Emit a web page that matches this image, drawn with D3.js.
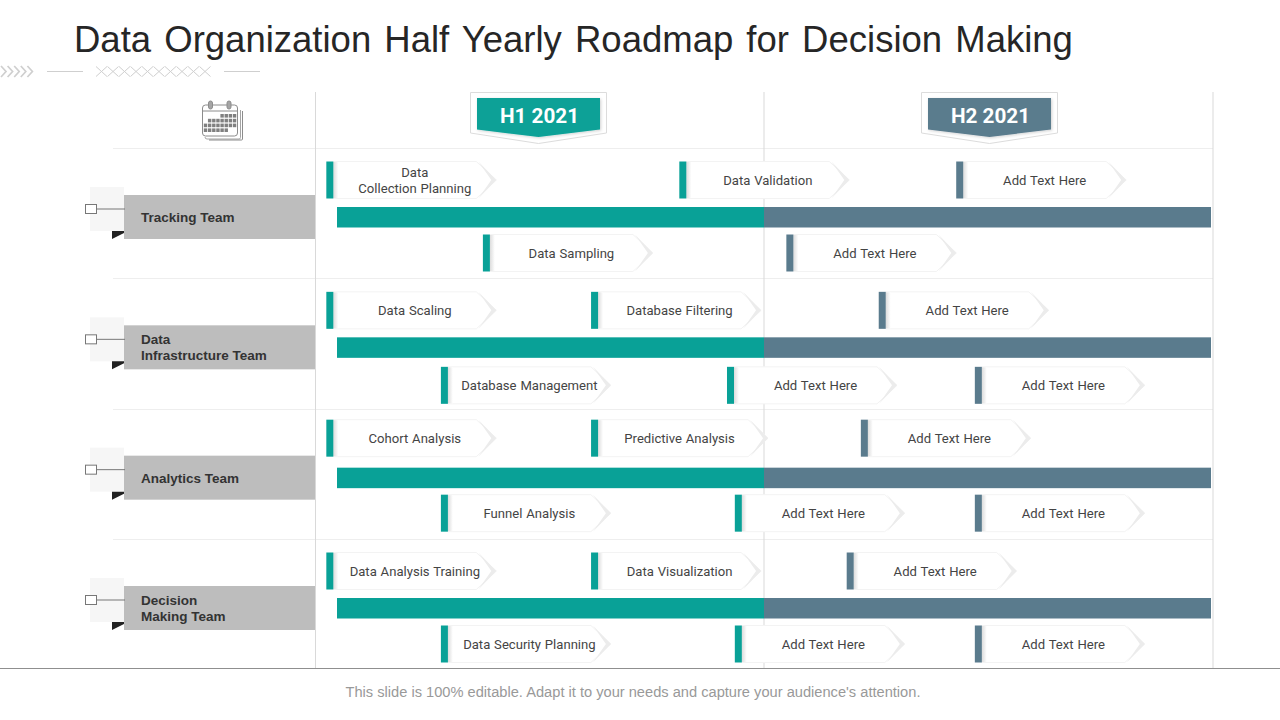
<!DOCTYPE html>
<html><head><meta charset="utf-8">
<script src="https://cdn.jsdelivr.net/npm/d3@7"></script>
<style>html,body{margin:0;padding:0;background:#fff}svg{display:block}</style>
</head><body><div id="c"></div>
<script>
// ---- data
const titleText = "Data Organization Half Yearly Roadmap for Decision Making";
const footerText = "This slide is 100% editable. Adapt it to your needs and capture your audience's attention.";
const teams = ["Tracking Team", "Data|Infrastructure Team", "Analytics Team", "Decision|Making Team"];
const halves = ["H1 2021", "H2 2021"];
const halfStartMonths = [0, 6];
const halfEndMonths = [6, 12];
// month positions of milestones (months from start of 2021)
const upperMonths = [[-0.15, 4.81, 8.58], [-0.15, 3.57, 7.54], [-0.15, 3.57, 7.30], [-0.15, 3.57, 7.11]];
const upperLabels = [
  ["Data|Collection Planning", "Data Validation", "Add Text Here"],
  ["Data Scaling", "Database Filtering", "Add Text Here"],
  ["Cohort Analysis", "Predictive Analysis", "Add Text Here"],
  ["Data Analysis Training", "Data Visualization", "Add Text Here"]];
const lowerMonths = [[2.05, 6.30], [1.46, 5.48, 8.83], [1.46, 5.59, 8.83], [1.46, 5.59, 8.83]];
const lowerLabels = [
  ["Data Sampling", "Add Text Here"],
  ["Database Management", "Add Text Here", "Add Text Here"],
  ["Funnel Analysis", "Add Text Here", "Add Text Here"],
  ["Data Security Planning", "Add Text Here", "Add Text Here"]];

// ---- style / layout
const TEAL = "#09a197", SLATE = "#5a7b8d";
const halfColors = [TEAL, SLATE];
const upperDy = [-37, -37, -39.5, -37], lowerDy = [36, 38, 35.5, 36];
const widerFlag = "Predictive Analysis";
const W = 1280, H = 720;
const x = d3.scaleLinear().domain([0, 6, 12]).range([337, 764, 1211]);
const y = d3.scalePoint().domain(d3.range(teams.length)).range([217, 608]);
const sepY = [148, 278, 409, 539];
const FONT = "Roboto, sans-serif", ARIAL = "'Liberation Sans', Arial, sans-serif";

const svg = d3.select("#c").append("svg").attr("width", W).attr("height", H);
const defs = svg.append("defs");
const f = defs.append("filter").attr("id", "sh").attr("x", "-10%").attr("y", "-20%").attr("width", "125%").attr("height", "140%");
f.append("feDropShadow").attr("dx", 1).attr("dy", 1).attr("stdDeviation", 1.6).attr("flood-color", "#000").attr("flood-opacity", 0.18);
const lg = defs.append("linearGradient").attr("id", "flagShade");
lg.append("stop").attr("offset", "0%").attr("stop-color", "#dcdcdc");
lg.append("stop").attr("offset", "100%").attr("stop-color", "#ffffff");

// title
svg.append("text").attr("x", 74).attr("y", 52).attr("font-family", ARIAL).attr("font-size", 36.5)
  .attr("fill", "#262626").attr("word-spacing", 3).text(titleText);

// decoration beneath the title
const deco = svg.append("g").attr("fill", "none").attr("stroke", "#cfcfcf").attr("stroke-width", 1.7);
d3.range(5).forEach(i => deco.append("path").attr("d", `M${1 + i * 6.6},66 l5,5.5 l-5,5.5`));
deco.append("path").attr("d", "M47,71.5H83M224,71.5H260").attr("stroke-width", 1);
d3.range(10).forEach(i => deco.append("path").attr("d", `M${96 + i * 11.5},66.5 l11,10 m0,-10 l-11,10`).attr("stroke-width", 1));

// grid
const grid = svg.append("g");
sepY.forEach(v => grid.append("line").attr("x1", 113).attr("x2", 1213).attr("y1", v + .5).attr("y2", v + .5).attr("stroke", "#eeeeee"));
[315.5, 764, 1213].forEach(v => grid.append("line").attr("x1", v).attr("x2", v).attr("y1", 92).attr("y2", 669).attr("stroke", "#d9d9d9"));
svg.append("line").attr("x1", 0).attr("x2", W).attr("y1", 668.5).attr("y2", 668.5).attr("stroke", "#8f8f8f");

// calendar icon
const cal = svg.append("g").attr("fill", "none").attr("stroke", "#8c8c8c").attr("stroke-width", 1);
cal.append("path").attr("d", "M240.5,110V137.5a1.5,1.5 0 0 1 -1.5,1.5H207a2,2 0 0 1 -2,-2").attr("stroke", "#a5a5a5");
cal.append("path").attr("d", "M242.5,111V139a1,1 0 0 1 -1,1H209");
cal.append("rect").attr("x", 202.5).attr("y", 105).attr("width", 35).attr("height", 31).attr("rx", 3).attr("fill", "#fff");
cal.append("line").attr("x1", 203).attr("x2", 237).attr("y1", 111).attr("y2", 111);
[210.5, 229].forEach(cx => cal.append("rect").attr("x", cx - 2).attr("y", 101).attr("width", 4).attr("height", 8).attr("rx", 2).attr("fill", "#a5a5a5"));
const calRows = [[4, 8], [1, 8], [0, 8], [0, 6]];
calRows.forEach((r, j) => d3.range(r[0], r[1]).forEach(i => {
  svg.append("rect").attr("x", 203.8 + i * 4.15).attr("y", 114 + j * 4.8).attr("width", 3.4).attr("height", 3.6).attr("fill", "#808080");
}));

// half badges
const badgeCentres = [538.5, 989.5];
halves.forEach((h, i) => {
  const g = svg.append("g").attr("transform", `translate(${badgeCentres[i]},0)`);
  g.append("path").attr("d", "M-68,92.5H68V133L0,143.5L-68,133Z").attr("fill", "#fff").attr("stroke", "#dcdcdc");
  g.append("path").attr("d", "M-61.5,98H61.5V129.5L0,137L-61.5,129.5Z").attr("fill", halfColors[i]).attr("filter", "url(#sh)");
  g.append("text").attr("x", 1).attr("y", 123).attr("text-anchor", "middle").attr("font-family", FONT).attr("font-weight", 700)
    .attr("font-size", 20.7).attr("fill", "#fff").text(h);
});

// team rows
teams.forEach((t, r) => {
  const cy = y(r);
  const g = svg.append("g");
  g.append("rect").attr("x", 90).attr("y", cy - 30).attr("width", 34).attr("height", 44).attr("fill", "#f6f6f6");
  g.append("path").attr("d", `M112,${cy + 22}V${cy + 14}H124V${cy + 16}Z`).attr("fill", "#222");
  g.append("rect").attr("x", 124).attr("y", cy - 22).attr("width", 191).attr("height", 44).attr("fill", "#bdbdbd");
  g.append("line").attr("x1", 96).attr("x2", 125).attr("y1", cy - 8).attr("y2", cy - 8).attr("stroke", "#777");
  g.append("rect").attr("x", 85.5).attr("y", cy - 12.5).attr("width", 11).attr("height", 9).attr("fill", "#fff").attr("stroke", "#777");
  const lines = t.split("|");
  lines.forEach((l, k) => g.append("text").attr("x", 141)
    .attr("y", cy + 5 + (k - (lines.length - 1) / 2) * 16)
    .attr("font-family", ARIAL).attr("font-weight", 700).attr("font-size", 13.5).attr("fill", "#333").text(l));

  // timeline bar
  halves.forEach((h, i) => svg.append("rect")
    .attr("x", x(halfStartMonths[i])).attr("width", x(halfEndMonths[i]) - x(halfStartMonths[i]))
    .attr("y", cy - 10).attr("height", 20.5).attr("fill", halfColors[i]));

  // milestones
  const drawFlags = (months, labels, fy) => months.forEach((m, k) => {
    const fx = x(m);
    const c = m < 6 ? TEAL : SLATE;
    const s = labels[k] === widerFlag ? 7 : 0;
    const fg = svg.append("g").attr("transform", `translate(${fx},${fy})`);
    fg.append("path").attr("d", `M7,-18.5H${150 + s}L${170 + s},0L${150 + s},18.5H7Z`).attr("fill", "#fff").attr("stroke", "#f3f3f3").attr("stroke-width", 1);
    fg.append("path").attr("d", `M${152 + s},-18.5L${170 + s},0L${152 + s},18.5L${165 + s},0Z`).attr("fill", "#ececec");
    fg.append("rect").attr("x", 7).attr("y", -18).attr("width", 5).attr("height", 36).attr("fill", "url(#flagShade)");
    fg.append("rect").attr("x", 0).attr("y", -18.5).attr("width", 7).attr("height", 37).attr("fill", c);
    const ls = labels[k].split("|");
    ls.forEach((l, q) => fg.append("text").attr("x", 88.5).attr("y", 4.5 + (q - (ls.length - 1) / 2) * 16)
      .attr("text-anchor", "middle").attr("font-family", FONT).attr("font-size", 13.1).attr("word-spacing", 0.6).attr("fill", "#444").text(l));
  });
  drawFlags(upperMonths[r], upperLabels[r], cy + upperDy[r]);
  drawFlags(lowerMonths[r], lowerLabels[r], cy + lowerDy[r]);
});

// footer
svg.append("text").attr("x", 633).attr("y", 696.5).attr("text-anchor", "middle").attr("font-family", ARIAL)
  .attr("font-size", 14.65).attr("fill", "#999").text(footerText);
</script></body></html>
